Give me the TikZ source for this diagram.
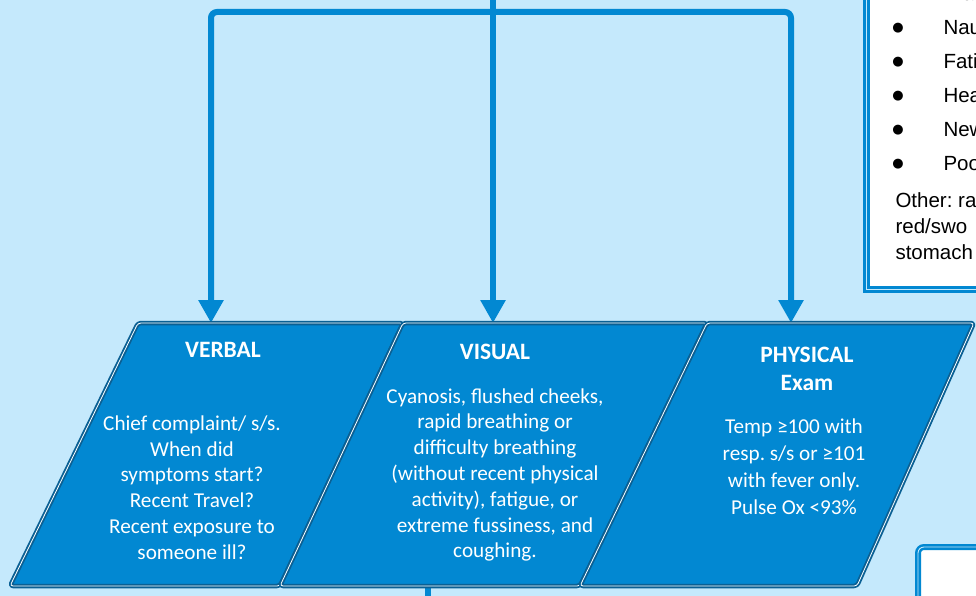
\documentclass[tikz,border=0pt]{standalone}
\usepackage{fontspec}
\setmainfont{Carlito}
\newfontfamily\boxfont{Liberation Sans}
\newfontfamily\dotfont{DejaVu Sans}
\usetikzlibrary{arrows.meta}
\definecolor{sky}{RGB}{197,233,252}
\definecolor{flow}{RGB}{2,136,210}
\definecolor{rim}{RGB}{10,96,148}
\frenchspacing

\begin{document}
\begin{tikzpicture}[x=1pt, y=-1pt,
    conn/.style={draw=flow, line width=6pt, rounded corners=6pt},
    tip/.style={-{Triangle[length=23pt, width=24pt]}},
    card/.style={fill=flow, draw=rim, line width=4.5pt, line join=round, rounded corners=3pt},
    cardrim/.style={draw=white, line width=0.8pt, rounded corners=3pt},
    head/.style={text=white, align=center, font=\bfseries\fontsize{23.5}{28}\selectfont},
    body/.style={text=white, align=center, font=\fontsize{21.2}{25.8}\selectfont},
    item/.style={anchor=base west, font=\boxfont\fontsize{20.5}{20}\selectfont}]

  \fill[sky] (0,0) rectangle (976,596);
  \useasboundingbox (0,0) rectangle (976,596);

  % tree from above
  \coordinate (feed)     at (493,-20);
  \coordinate (split)    at (493,12);
  \coordinate (verbal in)   at (211,323);
  \coordinate (visual in)   at (493,323);
  \coordinate (physical in) at (791,323);
  \coordinate (visual out)  at (428,580);
  \coordinate (down)        at (428,620);

  \draw[conn, tip] (feed) -- (visual in);
  \draw[conn, tip] (split) -| (verbal in);
  \draw[conn, tip] (split) -| (physical in);
  \draw[conn] (visual out) -- (down);

  % signs box, top right
  \draw[flow, line width=7pt, fill=white] (866,-20) rectangle (1000,289);
  \draw[sky, line width=0.9pt] (866,-20) -- (866,289) -- (1000,289);

  \node[item] (dia)     at (940,1)   {Dia};
  \node[item] (nausea)  at (940,35)  {Nau};
  \node[item] (fatigue) at (940,69)  {Fati};
  \node[item] (head)    at (940,103) {Hea};
  \node[item] (new)     at (940,137) {New};
  \node[item] (poor)    at (940,171) {Poo};
  \foreach \y/\n in {28/a, 62/b, 96/c, 130/d, 164/e}
    \node[font=\dotfont\fontsize{13}{13}\selectfont] (dot \n) at (898,\y) {●};
  \node[item] (other)   at (892,207) {Other: ra};
  \node[item] (red)     at (892,233) {red/swo};
  \node[item] (stomach) at (892,259) {stomach};

  % bottom right box
  \draw[flow, line width=6pt, fill=white, rounded corners=6pt] (918,547) rectangle (1010,640);
  \draw[sky, line width=0.9pt, rounded corners=6pt] (918,547) rectangle (1010,640);

  % the three checks
  \draw[card]    (138,323) -- (403,323) -- (280,586) -- (10,586) -- cycle;
  \draw[cardrim] (138,323) -- (403,323) -- (280,586) -- (10,586) -- cycle;
  \draw[card]    (403,323) -- (707,323) -- (580,586) -- (280,586) -- cycle;
  \draw[cardrim] (403,323) -- (707,323) -- (580,586) -- (280,586) -- cycle;
  \draw[card]    (707,323) -- (974,323) -- (857,586) -- (580,586) -- cycle;
  \draw[cardrim] (707,323) -- (974,323) -- (857,586) -- (580,586) -- cycle;

  \node[head] (verbal)   at (223,350) {VERBAL};
  \node[body] (verbal text) at (192,487.5)
    {Chief complaint/ s/s.\\When did\\symptoms start?\\Recent Travel?\\Recent exposure to\\someone ill?};

  \node[head] (visual)   at (495,352) {VISUAL};
  \node[body] (visual text) at (495,475)
    {Cyanosis, flushed cheeks,\\rapid breathing or\\difficulty breathing\\(without recent physical\\activity), fatigue, or\\extreme fussiness, and\\coughing.};

  \node[head] (physical) at (807,369) {PHYSICAL\\Exam};
  \node[body, font=\fontsize{21.2}{27}\selectfont] (physical text) at (794,466.5)
    {Temp ≥100 with\\resp. s/s or ≥101\\with fever only.\\Pulse Ox <93\%};
\end{tikzpicture}
\end{document}
